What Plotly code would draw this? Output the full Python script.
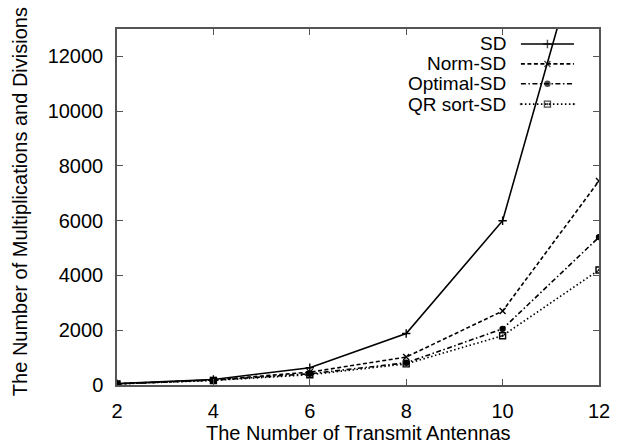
import plotly.graph_objects as go

# ---- data ----
antennas = [2, 4, 6, 8, 10, 12]
sd = [50, 200, 630, 1880, 6000, 18400]
norm_sd = [45, 185, 470, 1020, 2700, 7450]
optimal_sd = [40, 175, 410, 810, 2050, 5400]
qr_sort_sd = [40, 165, 375, 770, 1800, 4200]
series_names = ["SD", "Norm-SD", "Optimal-SD", "QR sort-SD"]
y_ticks = [0, 2000, 4000, 6000, 8000, 10000, 12000]
y_tick_labels = ["0", "2000", "4000", "6000", "8000", "10000", "12000"]
x_ticks = [2, 4, 6, 8, 10, 12]
x_title = "The Number of Transmit Antennas"
y_title = "The Number of Multiplications and Divisions"

FONT = "Liberation Sans, Arial, Helvetica, sans-serif"
FS = 20
AX = "rgb(85,85,85)"

styles = [
    dict(dash="solid", symbol="cross-thin", size=6),
    dict(dash="4px,2.5px", symbol="x-thin", size=6),
    dict(dash="5px,2.5px,1.5px,2.5px", symbol="circle", size=5),
    dict(dash="1.5px,2.5px", symbol="square-open-dot", size=6),
]
values = [sd, norm_sd, optimal_sd, qr_sort_sd]

fig = go.Figure()
for name, vals, st in zip(series_names, values, styles):
    fig.add_trace(go.Scatter(
        x=antennas, y=vals, name=name, mode="lines+markers",
        line=dict(color="black", width=1.6, dash=st["dash"]),
        marker=dict(symbol=st["symbol"], size=st["size"], color="black",
                    line=dict(color="black", width=1.4)),
        cliponaxis=True, showlegend=False,
    ))

# custom gnuplot-style key (text left of the sample)
key_rows = [0.958, 0.902, 0.846, 0.789]
key_x0, key_xm, key_x1, key_txt = 0.838, 0.893, 0.948, 0.809
for name, st, ry in zip(series_names, styles, key_rows):
    fig.add_trace(go.Scatter(
        x=[key_x0, key_xm, key_x1], y=[ry, ry, ry], mode="lines+markers",
        xaxis="x2", yaxis="y2", showlegend=False, hoverinfo="skip",
        line=dict(color="black", width=1.6, dash=st["dash"]),
        marker=dict(symbol=st["symbol"], size=[0, st["size"], 0], color="black",
                    line=dict(color="black", width=1.4)),
    ))
    fig.add_annotation(x=key_txt, y=ry, xref="paper", yref="paper", text=name,
                       showarrow=False, xanchor="right", yanchor="middle",
                       borderpad=0,
                       font=dict(family=FONT, size=FS - 1, color="black"))

# axis titles
fig.add_annotation(x=0.5, y=-0.135, xref="paper", yref="paper", text=x_title,
                   showarrow=False, xanchor="center", yanchor="middle",
                   font=dict(family=FONT, size=FS, color="black"))
fig.add_annotation(x=-0.201, y=0.514, xref="paper", yref="paper", text=y_title,
                   textangle=-90, showarrow=False, xanchor="center", yanchor="middle",
                   font=dict(family=FONT, size=FS, color="black"))

axis_common = dict(
    showline=True, linecolor=AX, linewidth=1.5, mirror="ticks",
    ticks="inside", ticklen=6, tickwidth=1.2, tickcolor=AX,
    showgrid=False, zeroline=False, automargin=False,
    tickfont=dict(family=FONT, size=FS, color="black"),
)

fig.update_layout(
    width=620, height=446,
    margin=dict(l=117, r=21, t=29, b=61),
    paper_bgcolor="white", plot_bgcolor="white",
    font=dict(family=FONT, size=FS, color="black"),
    xaxis=dict(range=[2, 12], tickvals=x_ticks, ticklabelstandoff=7, **axis_common),
    yaxis=dict(range=[0, 13000], tickvals=y_ticks, ticktext=y_tick_labels,
               ticklabelstandoff=8, **axis_common),
    xaxis2=dict(range=[0, 1], overlaying="x", visible=False, fixedrange=True),
    yaxis2=dict(range=[0, 1], overlaying="y", visible=False, fixedrange=True),
)

fig.write_html("out.html")
